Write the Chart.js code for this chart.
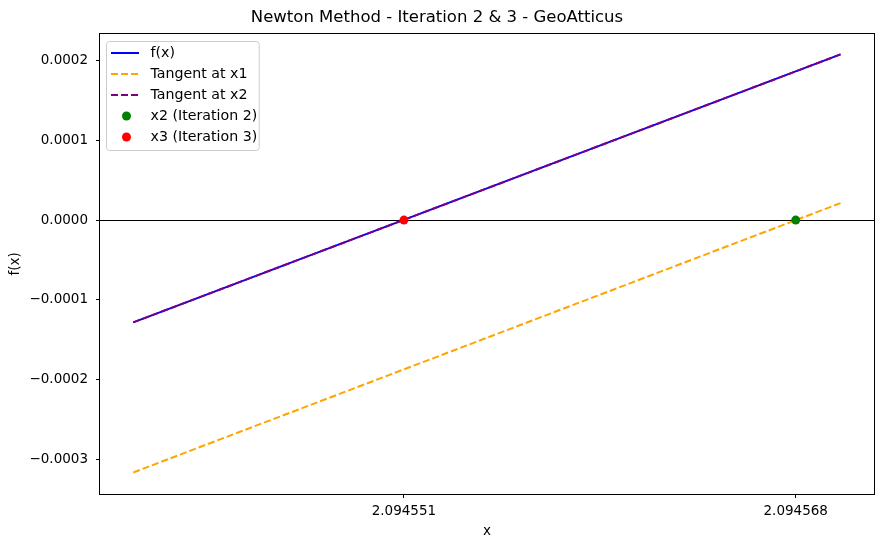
<!DOCTYPE html>
<html>
<head>
<meta charset="utf-8">
<script src="https://cdn.jsdelivr.net/npm/chart.js@4"></script>
<style>
  body { margin: 0; background: #fff; }
  #wrap { width: 884px; height: 547px; }
</style>
</head>
<body>
<div id="wrap"><canvas id="newton" width="884" height="547"></canvas></div>
<script>
// values
var lineX = [2.09454, 2.09457];              // ends of the plotted x range
var fxValues = [-0.0001284, 0.0002079];      // f(x) at those ends
var tangent1Values = [-0.0003167, 0.0000213];
var tangent2Values = [-0.0001284, 0.0002079];
var x2Point = [2.0945681, 0];
var x3Point = [2.09455148, 0];
var xTicks = [x3Point[0], x2Point[0]];
var yTicks = [-0.0003, -0.0002, -0.0001, 0, 0.0001, 0.0002];

var FONT = "'DejaVu Sans', sans-serif";
Chart.defaults.font.family = FONT;
Chart.defaults.color = "#000";

function pts(xs, ys) {
    return xs.map(function (x, i) { return { x: x, y: ys[i] }; });
}

// axhline + frame
var framePlugin = {
    id: "frame",
    beforeDatasetsDraw: function (chart) {
        var ctx = chart.ctx, a = chart.chartArea;
        var y0 = Math.round(chart.scales.y.getPixelForValue(0)) + 0.5;
        ctx.save();
        ctx.strokeStyle = "#000";
        ctx.lineWidth = 1;
        ctx.beginPath();
        ctx.moveTo(a.left, y0);
        ctx.lineTo(a.right, y0);
        ctx.stroke();
        ctx.restore();
    },
    afterDraw: function (chart) {
        var ctx = chart.ctx, a = chart.chartArea;
        ctx.save();
        ctx.strokeStyle = "#000";
        ctx.lineWidth = 1;
        ctx.strokeRect(Math.round(a.left) - 0.5, Math.round(a.top) - 0.5,
            Math.round(a.right - a.left) + 1, Math.round(a.bottom - a.top) + 1);
        ctx.restore();
    }
};

// matplotlib style legend inside the axes
var legendPlugin = {
    id: "boxLegend",
    afterDraw: function (chart) {
        var ctx = chart.ctx, a = chart.chartArea;
        var sets = chart.data.datasets;
        var left = Math.round(a.left) + 6.5, top = Math.round(a.top) + 7.5;
        var textX = left + 44, rowH = 21, firstRow = top + 11.5;
        ctx.save();
        ctx.font = "14.2px " + FONT;
        var maxW = 0;
        sets.forEach(function (d) { maxW = Math.max(maxW, ctx.measureText(d.label).width); });
        var w = textX - left + maxW + 2, h = rowH * sets.length + 4;
        ctx.beginPath();
        ctx.roundRect(left, top, w, h, 3);
        ctx.fillStyle = "rgba(255,255,255,0.8)";
        ctx.fill();
        ctx.strokeStyle = "#cccccc";
        ctx.lineWidth = 1;
        ctx.stroke();
        sets.forEach(function (d, i) {
            var y = firstRow + i * rowH;
            if (d.showLine) {
                ctx.beginPath();
                ctx.setLineDash(d.borderDash || []);
                ctx.strokeStyle = d.borderColor;
                ctx.lineWidth = d.borderWidth;
                ctx.moveTo(left + 4.5, y);
                ctx.lineTo(left + 32.5, y);
                ctx.stroke();
                ctx.setLineDash([]);
            } else {
                ctx.beginPath();
                ctx.arc(left + 20, y, d.pointRadius, 0, Math.PI * 2);
                ctx.fillStyle = d.backgroundColor;
                ctx.fill();
            }
            ctx.fillStyle = "#000";
            ctx.textBaseline = "middle";
            ctx.textAlign = "left";
            ctx.fillText(d.label, textX, y);
        });
        ctx.restore();
    }
};

var ctx = document.getElementById("newton").getContext("2d");
var newtonChart = new Chart(ctx, {
    type: "scatter",
    data: {
        datasets: [
            {
                label: "f(x)",
                data: pts(lineX, fxValues),
                showLine: true,
                borderColor: "#0000ff",
                backgroundColor: "#0000ff",
                borderWidth: 2,
                pointRadius: 0,
                order: 5
            },
            {
                label: "Tangent at x1",
                data: pts(lineX, tangent1Values),
                showLine: true,
                borderColor: "#ffa500",
                backgroundColor: "#ffa500",
                borderWidth: 2,
                borderDash: [7, 3],
                pointRadius: 0,
                order: 4
            },
            {
                label: "Tangent at x2",
                data: pts(lineX, tangent2Values),
                showLine: true,
                borderColor: "#800080",
                backgroundColor: "#800080",
                borderWidth: 2,
                borderDash: [7, 3],
                pointRadius: 0,
                order: 3
            },
            {
                label: "x2 (Iteration 2)",
                data: [{ x: x2Point[0], y: x2Point[1] }],
                showLine: false,
                backgroundColor: "#008000",
                borderWidth: 0,
                pointRadius: 4.5,
                order: 2
            },
            {
                label: "x3 (Iteration 3)",
                data: [{ x: x3Point[0], y: x3Point[1] }],
                showLine: false,
                backgroundColor: "#ff0000",
                borderWidth: 0,
                pointRadius: 4.5,
                order: 1
            }
        ]
    },
    options: {
        responsive: false,
        devicePixelRatio: 1,
        animation: false,
        events: [],
        layout: { padding: { left: 0, right: 10, top: 0, bottom: 0 } },
        plugins: {
            legend: { display: false },
            tooltip: { enabled: false },
            title: {
                display: true,
                text: "Newton Method - Iteration 2 & 3 - GeoAtticus",
                color: "#000",
                font: { size: 16.5, weight: "normal", family: FONT },
                padding: { top: 8, bottom: 6 }
            }
        },
        scales: {
            x: {
                type: "linear",
                min: 2.09453859,
                max: 2.09457142,
                border: { display: false },
                grid: { drawOnChartArea: false, drawTicks: true, tickLength: 4, tickColor: "#000" },
                ticks: {
                    font: { size: 13.5 },
                    padding: 5,
                    maxRotation: 0,
                    callback: function (v) { return v.toFixed(6); }
                },
                afterBuildTicks: function (scale) {
                    scale.ticks = xTicks.map(function (v) { return { value: v }; });
                },
                afterFit: function (scale) { scale.height = 53; },
                title: {
                    display: true,
                    text: "x",
                    font: { size: 13.5 },
                    padding: { top: 0, bottom: 7 }
                }
            },
            y: {
                type: "linear",
                min: -0.00034375,
                max: 0.00023375,
                border: { display: false },
                grid: { drawOnChartArea: false, drawTicks: true, tickLength: 4, tickColor: "#000" },
                ticks: {
                    font: { size: 13.5 },
                    padding: 8,
                    callback: function (v) {
                        if (Math.abs(v) < 1e-12) v = 0;
                        return v.toFixed(4).replace("-", "\u2212");
                    }
                },
                afterBuildTicks: function (scale) {
                    scale.ticks = yTicks.map(function (v) { return { value: v }; });
                },
                afterFit: function (scale) { scale.width = 100; },
                title: {
                    display: true,
                    text: "f(x)",
                    font: { size: 13.5 },
                    padding: { top: 7, bottom: 0 }
                }
            }
        }
    },
    plugins: [framePlugin, legendPlugin]
});
</script>
</body>
</html>
